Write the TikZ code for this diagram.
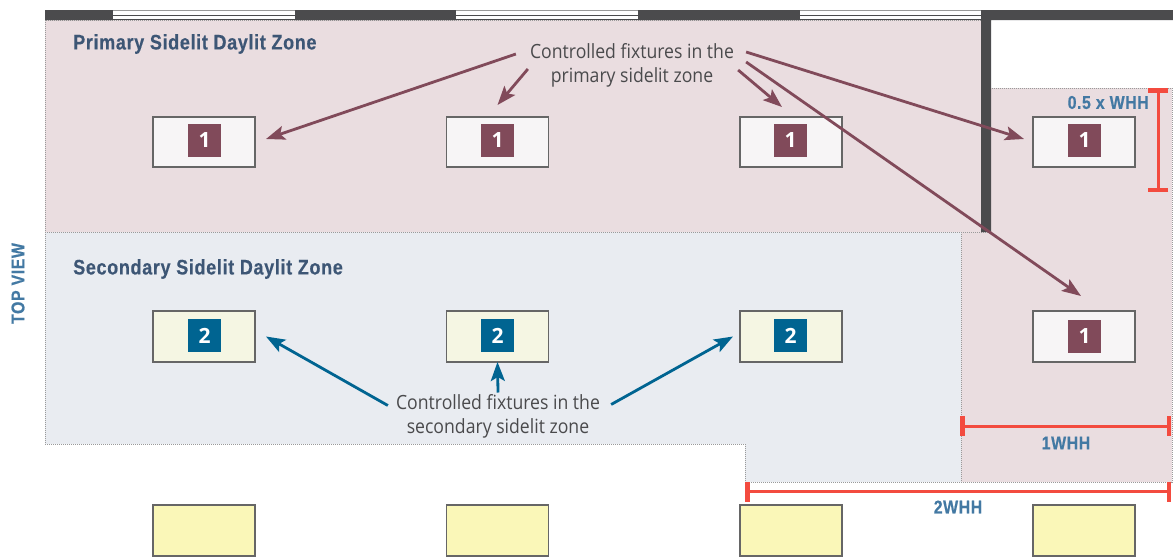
\documentclass[tikz,border=0pt]{standalone}
\usepackage{fontspec}
\usetikzlibrary{arrows.meta}
\setmainfont{Liberation Sans}
\newfontfamily\headfont[FakeStretch=0.86,LetterSpace=3,FakeBold=0.4]{Liberation Sans}
\newfontfamily\bodyfont[FakeStretch=0.9]{Open Sans}
\newfontfamily\numfont{Open Sans}
\definecolor{zonepink}{HTML}{EADDE0}
\definecolor{zoneblue}{HTML}{E9ECF1}
\definecolor{wallc}{HTML}{4B4B4D}
\definecolor{fixw}{HTML}{F7F5F6}
\definecolor{fixp}{HTML}{F5F6E3}
\definecolor{fixy}{HTML}{FAF7B8}
\definecolor{maroon}{HTML}{814A5A}
\definecolor{teal}{HTML}{006491}
\definecolor{headc}{HTML}{3D5675}
\definecolor{dimc}{HTML}{4379A3}
\definecolor{redc}{HTML}{F34B3F}
\definecolor{txtc}{HTML}{4A4A4C}
\definecolor{dotc}{HTML}{9A9A9A}
\tikzset{
  x=1pt,y=-1pt,
  fixture/.style={draw=#1!80!black,line width=1.2pt,minimum width=102pt,minimum height=50pt,inner sep=0pt,outer sep=0pt},
  fixw box/.style={fixture=gray,fill=fixw},
  fixp box/.style={fixture=gray,fill=fixp},
  fixy box/.style={fixture=gray,fill=fixy},
  badge/.style={fill=#1,text=white,minimum size=33pt,inner sep=0pt,font=\numfont\bfseries\fontsize{21}{21}\selectfont},
  zonehead/.style={anchor=west,inner sep=0pt,text=headc,font=\headfont\bfseries\fontsize{21}{21}\selectfont},
  dimlabel/.style={inner sep=0pt,text=dimc,font=\headfont\bfseries\fontsize{18.5}{19}\selectfont},
  callout/.style={align=center,inner sep=0pt,text=txtc,font=\bodyfont\fontsize{19.6}{24}\selectfont},
  zoneline/.style={draw=dotc,line width=1pt,densely dotted},
  parrow/.style={draw=maroon,line width=2.8pt,-{Stealth[length=19pt,width=14pt,inset=4pt]}},
  sarrow/.style={draw=teal,line width=2.8pt,-{Stealth[length=19pt,width=14pt,inset=4pt]}},
  dimline/.style={draw=redc,line width=3pt,{Bar[width=20pt,line width=4.5pt]}-{Bar[width=20pt,line width=4.5pt]}},
}
\begin{document}
\begin{tikzpicture}
\useasboundingbox (0,0) rectangle (1173,557);
\clip (0,0) rectangle (1173,557);
% zones
\fill[zonepink] (45,20) rectangle (981,232);
\fill[zonepink] (991,88) rectangle (1172,482) (961,232) rectangle (991,482);
\fill[zoneblue] (45,232) -- (961,232) -- (961,482) -- (745,482) -- (745,444) -- (45,444) -- cycle;
\draw[zoneline] (981,232) -- (981,20) -- (45,20) -- (45,444) -- (745,444) -- (745,482) -- (1172,482) -- (1172,88) -- (991,88);
\draw[zoneline] (45,232) -- (991,232);
\draw[zoneline] (961,232) -- (961,482);
% walls
\fill[wallc] (45,10) rectangle (113,20) (295,10) rectangle (456,20) (638,10) rectangle (800,20);
\fill[wallc] (991,10) rectangle (1173,20) (981,10) rectangle (991,232);
% windows
\foreach \a/\b in {113/295,456/638,800/981}{
  \fill[white] (\a,10) rectangle (\b,20);
  \draw[dotc,line width=0.8pt] (\a,10.5) -- (\b,10.5);
  \draw[wallc,line width=0.9pt] (\a,15) -- (\b,15);
  \draw[wallc,line width=0.9pt] (\a,19.5) -- (\b,19.5);
}
% fixtures
\node[fixw box] (f1) at (204,142) {};
\node[fixw box] (f2) at (497.5,142) {};
\node[fixw box] (f3) at (791,142) {};
\node[fixw box] (f4) at (1084,142) {};
\node[fixp box,minimum height=51pt] (g1) at (204,336.5) {};
\node[fixp box,minimum height=51pt] (g2) at (497.5,336.5) {};
\node[fixp box,minimum height=51pt] (g3) at (791,336.5) {};
\node[fixw box,minimum height=51pt] (f5) at (1084,336.5) {};
\node[fixy box,minimum height=51pt] (y1) at (204,530.5) {};
\node[fixy box,minimum height=51pt] (y2) at (497.5,530.5) {};
\node[fixy box,minimum height=51pt] (y3) at (791,530.5) {};
\node[fixy box,minimum height=51pt] (y4) at (1084,530.5) {};
% badges
\node[badge=maroon] (b1) at (204.5,140.5) {1};
\node[badge=maroon] (b2) at (497.5,140.5) {1};
\node[badge=maroon] (b3) at (790.5,140.5) {1};
\node[badge=maroon] (b4) at (1084.5,140) {1};
\node[badge=maroon] (b5) at (1084.5,336) {1};
\node[badge=teal] (c1) at (204.5,335.5) {2};
\node[badge=teal] (c2) at (497.5,335.5) {2};
\node[badge=teal] (c3) at (790.5,335.5) {2};
% texts
\node[zonehead] (hp) at (73,44) {Primary Sidelit Daylit Zone};
\node[zonehead] (hs) at (73,269) {Secondary Sidelit Daylit Zone};
\node[callout] (pl) at (632,65) {Controlled fixtures in the\\primary sidelit zone};
\node[callout] (sl) at (498,416.5) {Controlled fixtures in the\\secondary sidelit zone};
\node[dimlabel,anchor=east] (d1) at (1149,102.5) {0.5 x WHH};
\node[dimlabel] (d2) at (1066,443) {1WHH};
\node[dimlabel] (d3) at (958,507) {2WHH};
\node[dimlabel,rotate=90,text=dimc] (tv) at (18,283.5) {TOP VIEW};
% connectors
\draw[parrow] ([xshift=-14pt,yshift=11pt]pl.west) -- ([xshift=11pt,yshift=3pt]f1.east);
\draw[parrow] ([xshift=-2pt,yshift=-4pt]pl.west) -- ([xshift=0pt,yshift=12pt]f2.north);
\draw[parrow] ([xshift=4pt,yshift=-5pt]pl.east) -- ([xshift=-9pt,yshift=10pt]f3.north);
\draw[parrow] ([xshift=12pt,yshift=13pt]pl.east) -- ([xshift=-9pt,yshift=3pt]f4.west);
\draw[parrow] ([xshift=12pt,yshift=3pt]pl.east) -- ([xshift=-3pt,yshift=15pt]f5.north);
\draw[sarrow] ([xshift=-8pt,yshift=11pt]sl.west) -- ([xshift=11pt,yshift=0pt]g1.east);
\draw[sarrow] ([yshift=24pt]sl.center) -- (g2.south);
\draw[sarrow] ([xshift=11pt,yshift=12pt]sl.east) -- ([xshift=-7pt,yshift=0pt]g3.west);
% dimensions
\coordinate (v1) at (1158,88); \coordinate (v2) at (1158,192);
\coordinate (h1) at (960,426); \coordinate (h2) at (1171,426);
\coordinate (k1) at (745,491.5); \coordinate (k2) at (1171,491.5);
\draw[dimline] (v1) -- (v2);
\draw[dimline] (h1) -- (h2);
\draw[dimline] (k1) -- (k2);
\end{tikzpicture}
\end{document}
